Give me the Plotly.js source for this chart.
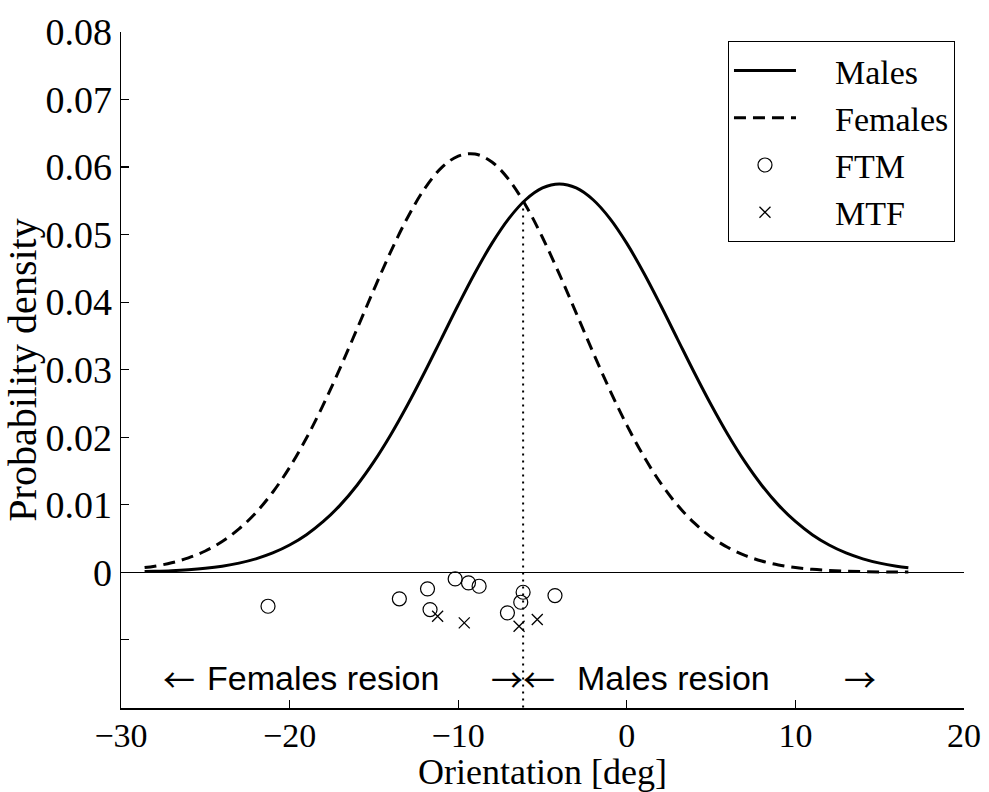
<!DOCTYPE html>
<html><head><meta charset="utf-8">
<script src="https://cdn.plot.ly/plotly-3.0.1.min.js"></script>
<style>html,body{margin:0;padding:0;background:#fff;} #chart{width:989px;height:792px;}</style>
</head><body><div id="chart"></div>
<script>
// Orientation grid (deg) for the two density curves
const curveX = [-28.6, -28, -27, -26, -25, -24, -23, -22, -21, -20, -19, -18, -17, -16, -15, -14, -13, -12, -11, -10,
  -9, -8, -7, -6, -5, -4, -3, -2, -1, 0, 1, 2, 3, 4, 5, 6, 7, 8, 9, 10, 11, 12, 13, 14, 15, 16, 16.7];
const malesDensity = [0.00011, 0.00015, 0.00024, 0.00038, 0.00059, 0.00090, 0.00135, 0.00199, 0.00286, 0.00403,
  0.00556, 0.00752, 0.00994, 0.01289, 0.01637, 0.02036, 0.02480, 0.02958, 0.03457, 0.03957,
  0.04435, 0.04870, 0.05237, 0.05516, 0.05691, 0.05750, 0.05691, 0.05516, 0.05237, 0.04870,
  0.04435, 0.03957, 0.03457, 0.02958, 0.02480, 0.02036, 0.01637, 0.01289, 0.00994, 0.00752,
  0.00556, 0.00403, 0.00286, 0.00199, 0.00135, 0.00090, 0.00067];
const femalesDensity = [0.00069, 0.00090, 0.00140, 0.00213, 0.00315, 0.00455, 0.00641, 0.00882, 0.01185, 0.01553,
  0.01987, 0.02482, 0.03027, 0.03603, 0.04186, 0.04747, 0.05254, 0.05677, 0.05987, 0.06163,
  0.06193, 0.06075, 0.05816, 0.05435, 0.04957, 0.04415, 0.03837, 0.03255, 0.02695, 0.02179,
  0.01719, 0.01324, 0.00995, 0.00730, 0.00523, 0.00366, 0.00250, 0.00166, 0.00108, 0.00069,
  0.00043, 0.00026, 0.00015, 0.00009, 0.00005, 0.00003, 0.00002];
// Individual subjects (plotted below zero)
const ftmX = [-21.28, -13.49, -11.82, -11.67, -10.18, -9.39, -8.76, -6.15, -6.29, -7.08, -4.26];
const ftmY = [-0.00503, -0.00393, -0.00246, -0.00552, -0.00098, -0.00157, -0.00207, -0.00296, -0.00444, -0.00601, -0.00345];
const mtfX = [-11.22, -9.64, -6.39, -5.31];
const mtfY = [-0.00651, -0.00749, -0.00799, -0.00700];
// Decision boundary
const boundaryX = [-6.15, -6.15];
const boundaryY = [0.0549, -0.0201];
// Axis ticks
const xTickVals = [-30, -20, -10, 0, 10, 20];
const yTickVals = [-0.01, 0, 0.01, 0.02, 0.03, 0.04, 0.05, 0.06, 0.07, 0.08];
const yTickText = ['', '0', '0.01', '0.02', '0.03', '0.04', '0.05', '0.06', '0.07', '0.08'];
const seriesNames = ['Males', 'Females', 'FTM', 'MTF'];

const SERIF = 'Liberation Serif, Times New Roman, serif';
const SANS = 'Liberation Sans, Arial, sans-serif';
const ARROWFONT = 'Noto Sans CJK JP, DejaVu Sans, sans-serif';
const regionY = -0.0156;
const LEGPAD = '\u2003';

const traces = [
  {x: boundaryX, y: boundaryY, mode: 'lines', showlegend: false, hoverinfo: 'skip',
   line: {color: '#000', width: 2, dash: '2px,5px'}},
  {x: curveX, y: malesDensity, name: LEGPAD + seriesNames[0], mode: 'lines',
   line: {color: '#000', width: 3, shape: 'spline'}},
  {x: curveX, y: femalesDensity, name: LEGPAD + seriesNames[1], mode: 'lines',
   line: {color: '#000', width: 3, shape: 'spline', dash: '12px,7px'}},
  {x: ftmX, y: ftmY, name: LEGPAD + seriesNames[2], mode: 'markers',
   marker: {symbol: 'circle-open', size: 14, color: '#000', line: {width: 1.2, color: '#000'}}},
  {x: mtfX, y: mtfY, name: LEGPAD + seriesNames[3], mode: 'markers',
   marker: {symbol: 'x-thin-open', size: 11, color: '#000', line: {width: 1.3, color: '#000'}}}
];

const layout = {
  width: 989, height: 792,
  margin: {l: 121, r: 25, t: 32, b: 84},
  paper_bgcolor: '#fff', plot_bgcolor: '#fff',
  font: {family: SERIF, color: '#000', size: 36},
  showlegend: true,
  legend: {x: 0.9893, y: 0.9867, xanchor: 'right', yanchor: 'top',
    bgcolor: '#fff', bordercolor: '#000', borderwidth: 1,
    font: {family: SERIF, size: 34, color: '#000'}, itemwidth: 62, tracegroupgap: 0},
  xaxis: {
    range: [-30, 20], tickvals: xTickVals, ticks: 'inside', ticklen: 8, tickwidth: 1.2, tickcolor: '#000',
    showline: true, linecolor: '#000', linewidth: 1.5, showgrid: false, zeroline: false,
    tickfont: {family: SERIF, size: 34, color: '#000'}, ticklabelstandoff: -3, automargin: false,
    title: {text: 'Orientation [deg]', font: {family: SERIF, size: 36, color: '#000'}, standoff: 0}
  },
  yaxis: {
    range: [-0.0201, 0.0800], tickvals: yTickVals, ticktext: yTickText,
    ticks: 'inside', ticklen: 8, tickwidth: 1.2, tickcolor: '#000',
    showline: true, linecolor: '#000', linewidth: 1.5, showgrid: false,
    zeroline: true, zerolinecolor: '#000', zerolinewidth: 1.5,
    tickfont: {family: SERIF, size: 38, color: '#000'}, ticklabelstandoff: 0, automargin: false,
    title: {text: 'Probability density', font: {family: SERIF, size: 40, color: '#000'}, standoff: 0}
  },
  annotations: [
    {x: -27.6, y: regionY, xref: 'x', yref: 'y', text: '←', showarrow: false, xanchor: 'left', yanchor: 'middle',
     font: {family: ARROWFONT, size: 32, color: '#000'}},
    {x: -25.03, y: regionY, xref: 'x', yref: 'y', text: 'Females resion', showarrow: false, xanchor: 'left', yanchor: 'middle',
     font: {family: SANS, size: 34, color: '#000'}},
    {x: -6.15, y: regionY, xref: 'x', yref: 'y', text: '→←', showarrow: false, xanchor: 'center', yanchor: 'middle',
     font: {family: ARROWFONT, size: 32, color: '#000'}},
    {x: -3.08, y: regionY, xref: 'x', yref: 'y', text: 'Males resion', showarrow: false, xanchor: 'left', yanchor: 'middle',
     font: {family: SANS, size: 34, color: '#000'}},
    {x: 13.85, y: regionY, xref: 'x', yref: 'y', text: '→', showarrow: false, xanchor: 'center', yanchor: 'middle',
     font: {family: ARROWFONT, size: 32, color: '#000'}}
  ]
};

Plotly.newPlot('chart', traces, layout, {staticPlot: true, displayModeBar: false});
</script>
</body></html>
